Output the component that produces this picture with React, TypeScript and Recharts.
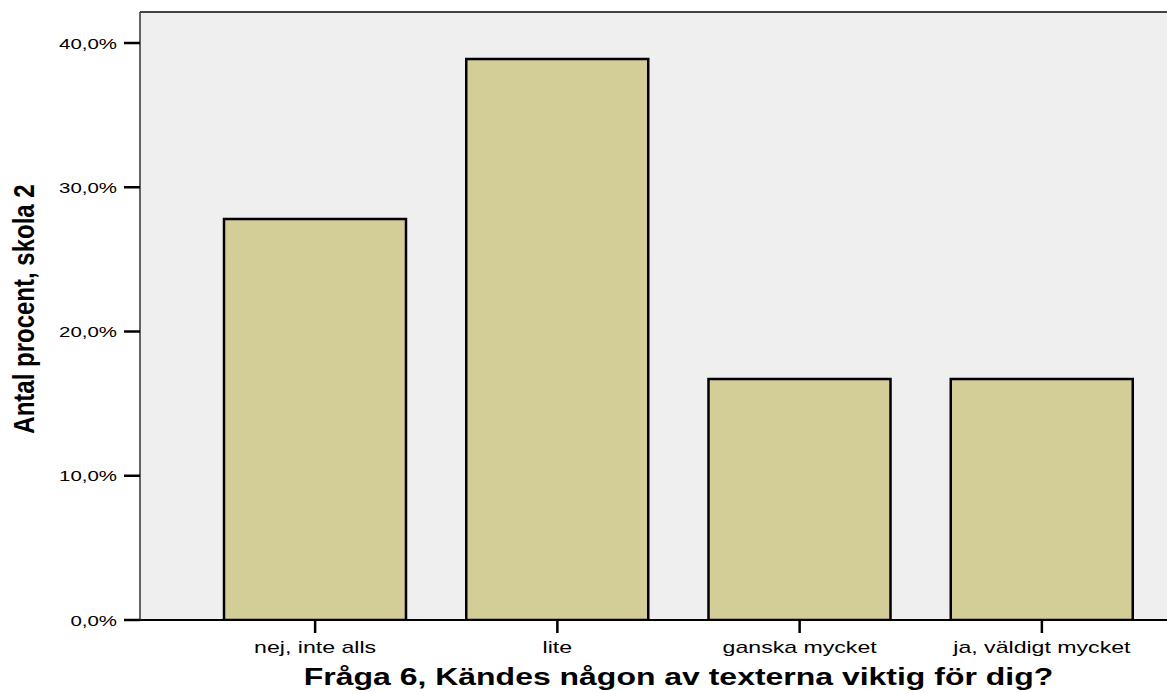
import { BarChart, Bar, XAxis, YAxis, CartesianGrid, ReferenceLine, Label } from 'recharts';

const categories = ['nej, inte alls', 'lite', 'ganska mycket', 'ja, väldigt mycket'];
const percents = [27.8, 38.9, 16.7, 16.7];
const yTicks = [0, 10, 20, 30, 40];
const yTop = 42.15;

const xTitle = 'Fråga 6, Kändes någon av texterna viktig för dig?';
const yTitle = 'Antal procent, skola 2';

const data = categories.map((name, i) => ({ name, value: percents[i] }));

const FONT = '"Liberation Sans", Arial, sans-serif';
const SX = 1.36;

function YTick({ x, y, payload }: any) {
  const txt = payload.value.toFixed(1).replace('.', ',') + '%';
  return (
    <text
      transform={`translate(${x},${y}) scale(1.32,1)`}
      textAnchor="end"
      dy={5.5}
      fontFamily={FONT}
      fontSize={15.5}
      fill="#000"
    >
      {txt}
    </text>
  );
}

function XTick({ x, y, payload }: any) {
  return (
    <text
      transform={`translate(${x},${y}) scale(${SX},1)`}
      textAnchor="middle"
      dy={20}
      fontFamily={FONT}
      fontSize={17}
      fill="#000"
    >
      {payload.value}
    </text>
  );
}

function XTitle({ viewBox }: any) {
  const cx = viewBox.x + 54 + (viewBox.width - 58) / 2;
  return (
    <text
      transform={`translate(${cx},685) scale(${SX},1)`}
      textAnchor="middle"
      fontFamily={FONT}
      fontSize={23.5}
      fontWeight="bold"
      fill="#000"
    >
      {xTitle}
    </text>
  );
}

function YTitle() {
  return (
    <text
      transform={`translate(34,309) scale(1.2,1) rotate(-90)`}
      textAnchor="middle"
      fontFamily={FONT}
      fontSize={24}
      fontWeight="bold"
      fill="#000"
    >
      {yTitle}
    </text>
  );
}

export default function App() {
  return (
    <div style={{ position: 'absolute', left: 0, top: 0, width: 1167, height: 693, background: '#fff' }}>
      <BarChart
        width={1167}
        height={693}
        data={data}
        margin={{ top: 12, right: 0, left: 0, bottom: 0 }}
        barSize={182}
      >
        <CartesianGrid fill="#efefef" horizontal={false} vertical={false} />
        <XAxis
          dataKey="name"
          height={73}
          padding={{ left: 54, right: 4 }}
          tickSize={13}
          tickMargin={0}
          tick={<XTick />}
          axisLine={{ stroke: '#000', strokeWidth: 2 }}
          tickLine={{ stroke: '#000', strokeWidth: 2.5 }}
          interval={0}
        >
          <Label content={<XTitle />} />
        </XAxis>
        <YAxis
          type="number"
          domain={[0, yTop]}
          ticks={yTicks}
          width={140}
          tickSize={16}
          tickMargin={7}
          tick={<YTick />}
          axisLine={{ stroke: '#333', strokeWidth: 1.5 }}
          tickLine={{ stroke: '#000', strokeWidth: 2.5 }}
          allowDataOverflow
        >
          <Label content={<YTitle />} />
        </YAxis>
        <ReferenceLine y={yTop} stroke="#444" strokeWidth={2} />
        <Bar
          dataKey="value"
          fill="#d3cd98"
          stroke="#000"
          strokeWidth={2.5}
          isAnimationActive={false}
        />
      </BarChart>
    </div>
  );
}
